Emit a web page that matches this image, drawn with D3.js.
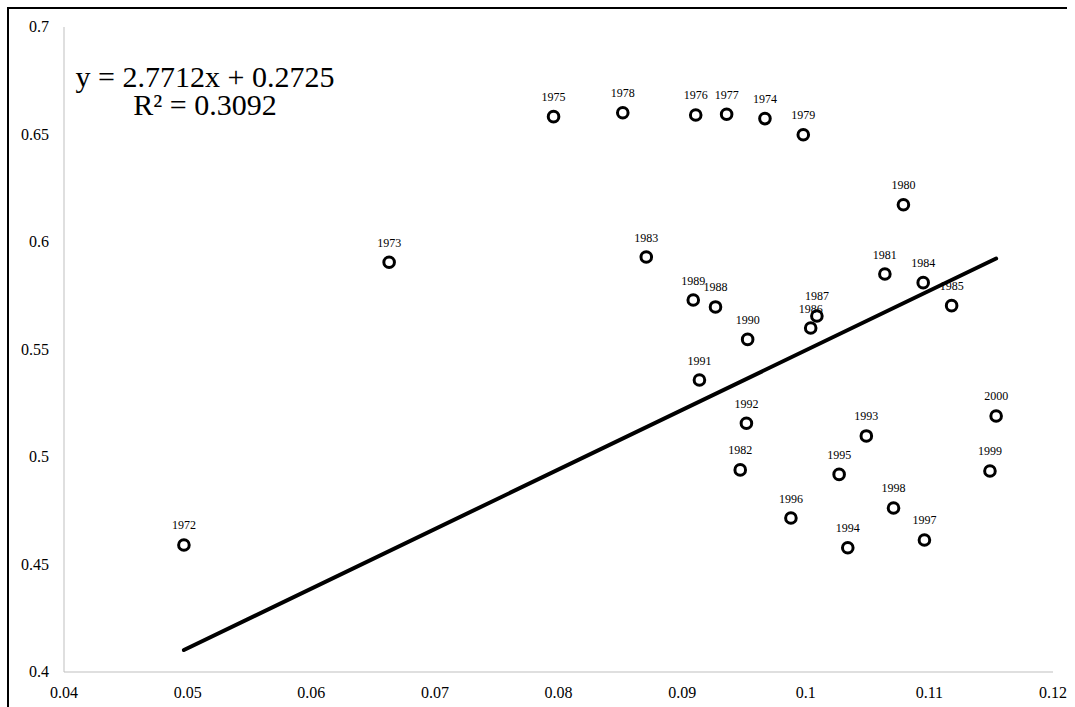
<!DOCTYPE html>
<html>
<head>
<meta charset="utf-8">
<script src="https://cdn.jsdelivr.net/npm/d3@7"></script>
<style>
  html, body { margin: 0; padding: 0; background: #fff; }
  svg { display: block; }
  text { font-family: "Liberation Serif", "Times New Roman", serif; fill: #000; }
</style>
</head>
<body>
<svg id="chart" width="1075" height="707"></svg>
<script>
// Year of each observation
const years = [1972, 1973, 1974, 1975, 1976, 1977, 1978, 1979, 1980, 1981,
               1982, 1983, 1984, 1985, 1986, 1987, 1988, 1989, 1990, 1991,
               1992, 1993, 1994, 1995, 1996, 1997, 1998, 1999, 2000];
// Horizontal variable
const xValues = [0.0497, 0.0663, 0.0967, 0.0796, 0.0911, 0.0936, 0.0852, 0.0998, 0.1079, 0.1064,
                 0.0947, 0.0871, 0.1095, 0.1118, 0.1004, 0.1009, 0.0927, 0.0909, 0.0953, 0.0914,
                 0.0952, 0.1049, 0.1034, 0.1027, 0.0988, 0.1096, 0.1071, 0.1149, 0.1154];
// Vertical variable
const yValues = [0.4591, 0.5906, 0.6574, 0.6583, 0.6591, 0.6594, 0.6601, 0.6499, 0.6173, 0.5851,
                 0.4940, 0.5930, 0.5811, 0.5704, 0.5600, 0.5656, 0.5698, 0.5730, 0.5547, 0.5358,
                 0.5157, 0.5098, 0.4578, 0.4919, 0.4716, 0.4614, 0.4763, 0.4935, 0.5191];

// Axis ticks
const xTicks = [0.04, 0.05, 0.06, 0.07, 0.08, 0.09, 0.10, 0.11, 0.12];
const yTicks = [0.40, 0.45, 0.50, 0.55, 0.60, 0.65, 0.70];

// Linear trend line
const slope = 2.7712;
const intercept = 0.2725;
const rSquared = 0.3092;

const svg = d3.select("#chart");

const x = d3.scaleLinear().domain([0.04, 0.12]).range([64, 1053]);
const y = d3.scaleLinear().domain([0.40, 0.70]).range([672, 27]);

const fmt = v => String(+v.toFixed(2));

// outer frame
svg.append("path")
  .attr("d", "M8,720 L8,8 L1067,8")
  .attr("fill", "none")
  .attr("stroke", "#000")
  .attr("stroke-width", 2);

// axis lines
const axisColor = "#bfbfbf";
svg.append("line")
  .attr("x1", x(0.04)).attr("x2", x(0.04))
  .attr("y1", y(0.70)).attr("y2", y(0.40))
  .attr("stroke", axisColor).attr("stroke-width", 1);
svg.append("line")
  .attr("x1", x(0.04)).attr("x2", x(0.12))
  .attr("y1", y(0.40)).attr("y2", y(0.40))
  .attr("stroke", axisColor).attr("stroke-width", 1);

// tick labels
svg.append("g").selectAll("text")
  .data(yTicks).join("text")
  .attr("x", 49)
  .attr("y", d => y(d))
  .attr("dy", "0.33em")
  .attr("text-anchor", "end")
  .attr("font-size", 16)
  .text(fmt);

svg.append("g").selectAll("text")
  .data(xTicks).join("text")
  .attr("x", d => x(d))
  .attr("y", 698)
  .attr("text-anchor", "middle")
  .attr("font-size", 16)
  .text(fmt);

// trend line across the range of the data
const xExtent = d3.extent(xValues);
svg.append("line")
  .attr("x1", x(xExtent[0])).attr("y1", y(slope * xExtent[0] + intercept))
  .attr("x2", x(xExtent[1])).attr("y2", y(slope * xExtent[1] + intercept))
  .attr("stroke", "#000")
  .attr("stroke-width", 4)
  .attr("stroke-linecap", "round");

// points
const pts = years.map((yr, i) => ({ year: yr, x: xValues[i], y: yValues[i] }));

svg.append("g").selectAll("circle")
  .data(pts).join("circle")
  .attr("cx", d => x(d.x))
  .attr("cy", d => y(d.y))
  .attr("r", 5.3)
  .attr("fill", "#fff")
  .attr("stroke", "#000")
  .attr("stroke-width", 3);

svg.append("g").selectAll("text")
  .data(pts).join("text")
  .attr("x", d => x(d.x))
  .attr("y", d => y(d.y) - 15.5)
  .attr("text-anchor", "middle")
  .attr("font-size", 12)
  .text(d => d.year);

// equation
const eq = svg.append("g").attr("font-size", 30).attr("text-anchor", "middle");
eq.append("text")
  .attr("x", 205).attr("y", 87)
  .text(`y = ${slope}x + ${intercept}`);
eq.append("text")
  .attr("x", 205).attr("y", 115)
  .text(`R² = ${rSquared}`);
</script>
</body>
</html>
